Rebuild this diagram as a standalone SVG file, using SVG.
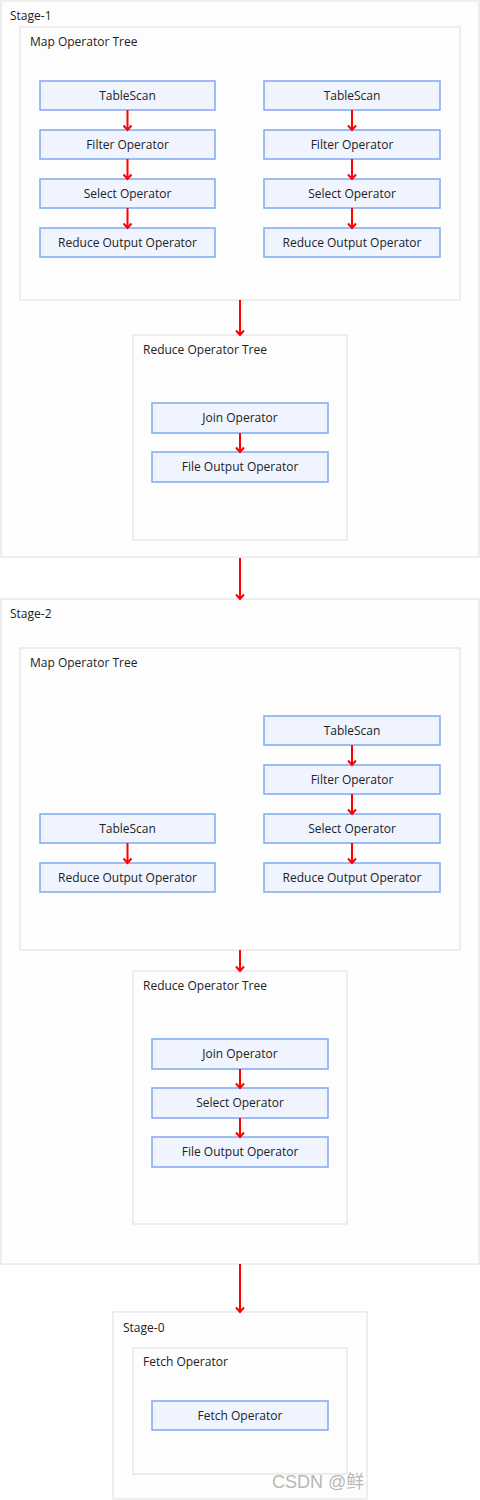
<svg xmlns="http://www.w3.org/2000/svg" width="480" height="1500" viewBox="0 0 480 1500">
<style>
.c{fill:#fdfdfd;stroke:#e3e3e3;stroke-width:1.2}
.n{fill:#eff4ff;stroke:#7fa8f4;stroke-width:1.5}
.t{font-family:"Open Sans","Noto Sans",sans-serif;font-size:12px;fill:#222}
.m{text-anchor:middle}
.a{stroke:#ff0000;stroke-width:2;fill:none;marker-end:url(#ah)}
</style>
<defs>
<marker id="ah" viewBox="0 0 10 10" refX="8.5" refY="5" markerWidth="10" markerHeight="10" markerUnits="userSpaceOnUse" orient="auto">
<path d="M4,1 L8.5,5 L4,9" fill="none" stroke="#ff0000" stroke-width="2"/>
</marker>
</defs>
<rect width="480" height="1500" fill="#ffffff"/>
<g id="stage1">
<rect class="c" x="1" y="1" width="478" height="556"/>
<text class="t" x="10" y="20">Stage-1</text>
</g>
<g id="map1">
<rect class="c" x="20" y="27" width="440" height="273"/>
<text class="t" x="30" y="46">Map Operator Tree</text>
</g>
<g id="m1l1"><rect class="n" x="40" y="81" width="175" height="29"/><text class="t m" x="127.5" y="99.5">TableScan</text></g>
<g id="m1l2"><rect class="n" x="40" y="130" width="175" height="29"/><text class="t m" x="127.5" y="148.5">Filter Operator</text></g>
<g id="m1l3"><rect class="n" x="40" y="179" width="175" height="29"/><text class="t m" x="127.5" y="197.5">Select Operator</text></g>
<g id="m1l4"><rect class="n" x="40" y="228" width="175" height="29"/><text class="t m" x="127.5" y="246.5">Reduce Output Operator</text></g>
<g id="m1r1"><rect class="n" x="264" y="81" width="176" height="29"/><text class="t m" x="352" y="99.5">TableScan</text></g>
<g id="m1r2"><rect class="n" x="264" y="130" width="176" height="29"/><text class="t m" x="352" y="148.5">Filter Operator</text></g>
<g id="m1r3"><rect class="n" x="264" y="179" width="176" height="29"/><text class="t m" x="352" y="197.5">Select Operator</text></g>
<g id="m1r4"><rect class="n" x="264" y="228" width="176" height="29"/><text class="t m" x="352" y="246.5">Reduce Output Operator</text></g>
<g id="red1">
<rect class="c" x="133" y="335" width="214" height="205"/>
<text class="t" x="143" y="354">Reduce Operator Tree</text>
</g>
<g id="r1a"><rect class="n" x="152" y="403" width="176" height="30"/><text class="t m" x="240" y="422">Join Operator</text></g>
<g id="r1b"><rect class="n" x="152" y="452" width="176" height="30"/><text class="t m" x="240" y="471">File Output Operator</text></g>

<g id="stage2">
<rect class="c" x="1" y="599" width="478" height="665"/>
<text class="t" x="10" y="618">Stage-2</text>
</g>
<g id="map2">
<rect class="c" x="20" y="648" width="440" height="302"/>
<text class="t" x="30" y="667">Map Operator Tree</text>
</g>
<g id="m2l1"><rect class="n" x="40" y="814" width="175" height="29"/><text class="t m" x="127.5" y="832.5">TableScan</text></g>
<g id="m2l2"><rect class="n" x="40" y="863" width="175" height="29"/><text class="t m" x="127.5" y="881.5">Reduce Output Operator</text></g>
<g id="m2r1"><rect class="n" x="264" y="716" width="176" height="29"/><text class="t m" x="352" y="734.5">TableScan</text></g>
<g id="m2r2"><rect class="n" x="264" y="765" width="176" height="29"/><text class="t m" x="352" y="783.5">Filter Operator</text></g>
<g id="m2r3"><rect class="n" x="264" y="814" width="176" height="29"/><text class="t m" x="352" y="832.5">Select Operator</text></g>
<g id="m2r4"><rect class="n" x="264" y="863" width="176" height="29"/><text class="t m" x="352" y="881.5">Reduce Output Operator</text></g>
<g id="red2">
<rect class="c" x="133" y="971" width="214" height="253"/>
<text class="t" x="143" y="990">Reduce Operator Tree</text>
</g>
<g id="r2a"><rect class="n" x="152" y="1039" width="176" height="30"/><text class="t m" x="240" y="1058">Join Operator</text></g>
<g id="r2b"><rect class="n" x="152" y="1088" width="176" height="30"/><text class="t m" x="240" y="1107">Select Operator</text></g>
<g id="r2c"><rect class="n" x="152" y="1137" width="176" height="30"/><text class="t m" x="240" y="1156">File Output Operator</text></g>

<g id="stage0">
<rect class="c" x="113" y="1312" width="254" height="187"/>
<text class="t" x="123" y="1332">Stage-0</text>
</g>
<g id="fetch">
<rect class="c" x="133" y="1348" width="214" height="126"/>
<text class="t" x="143" y="1366">Fetch Operator</text>
</g>
<g id="f1"><rect class="n" x="152" y="1401" width="176" height="29"/><text class="t m" x="240" y="1419.5">Fetch Operator</text></g>

<g id="connectors">
<line class="a" x1="127.5" y1="110" x2="127.5" y2="130"/>
<line class="a" x1="127.5" y1="159" x2="127.5" y2="179"/>
<line class="a" x1="127.5" y1="208" x2="127.5" y2="228"/>
<line class="a" x1="352" y1="110" x2="352" y2="130"/>
<line class="a" x1="352" y1="159" x2="352" y2="179"/>
<line class="a" x1="352" y1="208" x2="352" y2="228"/>
<line class="a" x1="240" y1="300" x2="240" y2="335"/>
<line class="a" x1="240" y1="433" x2="240" y2="452"/>
<line class="a" x1="240" y1="558" x2="240" y2="599"/>
<line class="a" x1="127.5" y1="843" x2="127.5" y2="863"/>
<line class="a" x1="352" y1="745" x2="352" y2="765"/>
<line class="a" x1="352" y1="794" x2="352" y2="814"/>
<line class="a" x1="352" y1="843" x2="352" y2="863"/>
<line class="a" x1="240" y1="950" x2="240" y2="971"/>
<line class="a" x1="240" y1="1069" x2="240" y2="1088"/>
<line class="a" x1="240" y1="1118" x2="240" y2="1137"/>
<line class="a" x1="240" y1="1264" x2="240" y2="1312"/>
</g>
<text x="272" y="1488" style="font-family:'Liberation Sans','Noto Sans CJK SC',sans-serif;font-size:18px;fill:#b8b8b8">CSDN @鲜</text>
</svg>
